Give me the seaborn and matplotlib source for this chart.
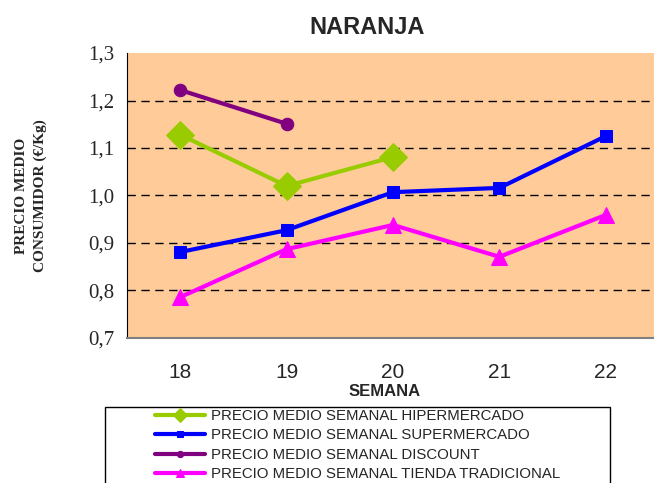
import matplotlib
matplotlib.use("Agg")
import matplotlib.pyplot as plt
import seaborn as sns
from matplotlib.patches import Rectangle
from matplotlib.ticker import FuncFormatter, MultipleLocator

semanas = [18, 19, 20, 21, 22]
hiper = [1.128, 1.020, 1.081]
super_ = [0.881, 0.927, 1.007, 1.016, 1.125]
discount = [1.222, 1.151]
tienda = [0.786, 0.887, 0.938, 0.871, 0.959]

series = [
    ("PRECIO MEDIO SEMANAL HIPERMERCADO", hiper, "#99CC00", "D", 14),
    ("PRECIO MEDIO SEMANAL SUPERMERCADO", super_, "#0000FF", "s", 9),
    ("PRECIO MEDIO SEMANAL DISCOUNT", discount, "#800080", "o", 9),
    ("PRECIO MEDIO SEMANAL TIENDA TRADICIONAL", tienda, "#FF00FF", "^", 11),
]

sns.set_style("white")
fig = plt.figure(figsize=(6.54, 4.83), dpi=100)
ax = fig.add_axes([127 / 654, 1 - 338 / 483, 532 / 654, 285 / 483])
ax.set_facecolor("#FFCC99")

for label, values, color, marker, ms in series:
    sns.lineplot(
        x=semanas[: len(values)],
        y=values,
        color=color,
        marker=marker,
        markersize=ms,
        markeredgecolor=color,
        linewidth=3,
        label=label,
        ax=ax,
    )

ax.set_xlim(17.5, 22.5)
ax.set_ylim(0.7, 1.3)
ax.yaxis.set_major_locator(MultipleLocator(0.1))
ax.yaxis.set_major_formatter(FuncFormatter(lambda v, _: f"{v:.1f}".replace(".", ",")))
ax.set_xticks(semanas)
ax.set_xticks([18.5, 19.5, 20.5, 21.5], minor=True)
for y in [0.8, 0.9, 1.0, 1.1, 1.2]:
    ax.axhline(y, color="black", linestyle=(0, (6, 4)), linewidth=1, zorder=0.5)

ax.tick_params(axis="x", which="both", direction="out", length=4, width=1,
               color="#555555", labelsize=15, pad=14)
ax.tick_params(axis="y", direction="inout", length=10, width=1, color="black",
               labelsize=15, pad=4)
for lbl in ax.get_yticklabels():
    lbl.set_fontfamily("Liberation Serif")
for lbl in ax.get_xticklabels():
    lbl.set_fontfamily("Liberation Sans")

ax.spines["top"].set_visible(False)
ax.spines["right"].set_visible(False)
ax.spines["left"].set_color("black")
ax.spines["bottom"].set_color("#808080")
ax.spines["bottom"].set_linewidth(1.5)
ax.set_xlabel("")
ax.set_ylabel("")
ax.get_legend().remove()

fig.text(367 / 654, 1 - 27 / 483, "NARANJA", ha="center", va="center",
         fontsize=17, fontweight="bold", family="Liberation Sans")
fig.text(385 / 654, 1 - 392 / 483, "SEMANA", ha="center", va="center",
         fontsize=12, fontweight="bold", family="Liberation Sans")
fig.text(31 / 654, 1 - 196 / 483, "PRECIO MEDIO\nCONSUMIDOR (€/Kg)", rotation=90,
         ha="center", va="center", multialignment="center", fontsize=11,
         fontweight="bold", family="Liberation Serif", linespacing=1.5)

fig.patches.append(Rectangle((105 / 654, -0.05), 505 / 654, 1 - 407 / 483 + 0.05,
                             transform=fig.transFigure, facecolor="white",
                             edgecolor="black", linewidth=1, zorder=-1))
handles, labels = ax.get_legend_handles_labels()
fig.legend(handles, labels, loc="upper left", bbox_to_anchor=(155 / 654, 1 - 409 / 483),
           frameon=False, prop={"family": "Liberation Sans", "size": 10.8},
           handlelength=3.3, handletextpad=0.45, labelspacing=0.36, borderpad=0,
           borderaxespad=0, markerscale=0.5)

fig.savefig("out.png", dpi=100)
